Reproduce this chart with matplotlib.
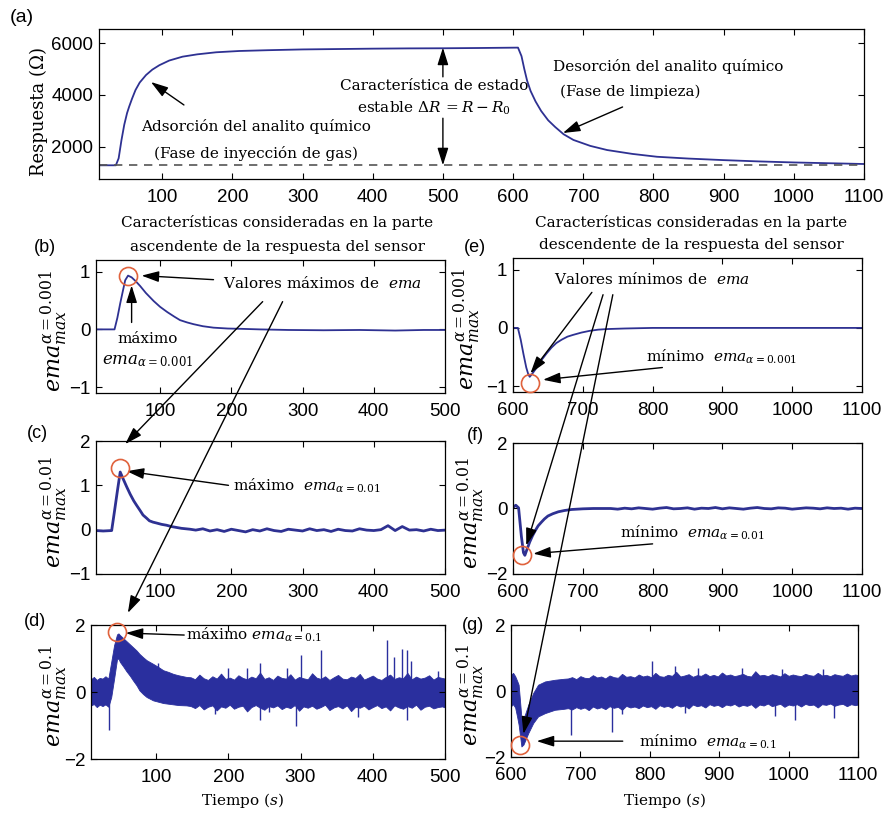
import numpy as np
import matplotlib
matplotlib.use('Agg')
import matplotlib.pyplot as plt
from matplotlib.patches import ConnectionPatch

plt.rcParams['font.family'] = 'Liberation Sans'
plt.rcParams['mathtext.fontset'] = 'dejavuserif'

# ---- data ----
# (a) sensor response
t_a = [10, 34, 38, 42, 46, 50, 53, 57, 62, 68, 77, 86, 96, 110, 129, 150, 177, 210, 250, 300,
       350, 400, 450, 500, 550, 607, 612, 616, 620, 625, 632, 640, 650, 660, 672, 686, 710, 734, 770, 805,
       850, 900, 950, 1000, 1050, 1100]
r_a = [1280, 1280, 1550, 2250, 2850, 3300, 3550, 3850, 4190, 4480, 4770, 4980, 5150, 5330, 5480, 5570, 5650, 5700, 5730, 5760,
       5775, 5790, 5800, 5805, 5815, 5830, 5500, 5000, 4550, 4150, 3750, 3380, 3020, 2760, 2480, 2260, 2030, 1870, 1720, 1610,
       1540, 1480, 1430, 1390, 1360, 1330]
r0 = 1280

# (b) ema alpha=0.001, ascending
t_b = [10, 36, 40, 44, 48, 51, 55, 60, 66, 72, 80, 91, 100, 110, 120, 128, 138, 147, 160, 175,
       195, 213, 240, 280, 330, 380, 430, 470, 500]
v_b = [0, 0, 0.2, 0.45, 0.68, 0.85, 0.93, 0.90, 0.83, 0.75, 0.63, 0.49, 0.39, 0.30, 0.22, 0.16, 0.12, 0.09, 0.055, 0.03,
       0.015, 0.01, 0.0, -0.01, -0.015, -0.01, -0.02, -0.01, -0.01]

# (c) ema alpha=0.01, ascending
t_c = [10, 20, 32, 36, 40, 44, 48, 53, 58, 63, 67, 72, 76, 81, 85, 90, 95, 102, 109, 116, 123, 130, 142]
v_c = [-0.02, -0.03, -0.02, 0.42, 0.87, 1.30, 1.15, 0.97, 0.80, 0.65, 0.55, 0.43, 0.33, 0.26, 0.20, 0.17, 0.15,
       0.12, 0.10, 0.07, 0.05, 0.03, 0.01]
t_c_tail = list(range(150, 501, 10))
v_c_tail = [-0.01, 0.02, -0.03, 0.00, -0.04, 0.01, -0.02, -0.05, 0.00, -0.03,
            0.02, -0.02, -0.04, 0.01, -0.01, -0.03, 0.02, -0.02, 0.00, -0.04,
            0.01, -0.02, -0.03, 0.02, -0.01, -0.02, 0.00, 0.09, -0.02, 0.07,
            -0.01, 0.00, -0.03, 0.01, -0.02, -0.01]

# (d) ema alpha=0.1, ascending: noise band envelope + isolated spikes
t_d = [10, 14, 18, 22, 26, 30, 34, 38, 42, 46, 48, 50, 55, 59, 64, 68, 73, 77, 82, 87,
       96, 103, 110, 117, 124, 131, 142] + list(range(148, 497, 6)) + [500]
up_d = [0.38, 0.45, 0.36, 0.42, 0.40, 0.47, 0.40, 0.90, 1.40, 1.72, 1.75, 1.70, 1.60, 1.52, 1.42, 1.34, 1.24, 1.14, 1.04, 0.95,
        0.84, 0.75, 0.65, 0.60, 0.54, 0.50, 0.45,
        0.44, 0.38, 0.52, 0.41, 0.36, 0.47, 0.40, 0.55, 0.39, 0.43,
        0.37, 0.50, 0.42, 0.38, 0.46, 0.41, 0.58, 0.39, 0.44, 0.36,
        0.49, 0.42, 0.40, 0.53, 0.37, 0.45, 0.41, 0.38, 0.56, 0.43,
        0.39, 0.47, 0.36, 0.44, 0.51, 0.40, 0.38, 0.46, 0.42, 0.54,
        0.37, 0.43, 0.49, 0.40, 0.36, 0.45, 0.52, 0.39, 0.44, 0.41,
        0.57, 0.38, 0.46, 0.40, 0.43, 0.50, 0.37, 0.45, 0.42, 0.40]
lo_d = [-0.40, -0.36, -0.45, -0.38, -0.42, -0.37, -0.44, -0.15, 0.40, 0.98, 1.00, 0.90, 0.75, 0.62, 0.48, 0.35, 0.20, 0.05, -0.06, -0.15,
        -0.25, -0.29, -0.33, -0.35, -0.37, -0.39, -0.40,
        -0.42, -0.48, -0.39, -0.52, -0.44, -0.40, -0.55, -0.43, -0.47, -0.38,
        -0.50, -0.44, -0.41, -0.58, -0.45, -0.39, -0.47, -0.53, -0.42, -0.46,
        -0.40, -0.51, -0.44, -0.48, -0.39, -0.56, -0.43, -0.47, -0.41, -0.50,
        -0.45, -0.38, -0.54, -0.46, -0.42, -0.49, -0.40, -0.57, -0.44, -0.47,
        -0.41, -0.52, -0.45, -0.39, -0.48, -0.43, -0.55, -0.40, -0.46, -0.50,
        -0.42, -0.47, -0.38, -0.53, -0.44, -0.41, -0.49, -0.45, -0.43, -0.46]
spk_d_t = [35, 103, 182, 200, 226, 244, 244, 256, 281, 294, 300, 328, 380, 420, 429, 441, 447, 448, 453, 490]
spk_d_v = [-1.14, 0.87, -0.65, 0.72, 0.72, 0.87, -0.85, -0.60, 0.72, -1.00, 1.09, 1.24, -0.75, 1.54, 1.04, 1.29, 1.24, -0.85, 0.94, 0.64]

# (e) ema alpha=0.001, descending
t_e = [600, 607, 611, 615, 619, 622, 624, 628, 634, 641, 648, 655, 662, 670, 678, 686, 698, 710, 722, 734,
       760, 800, 900, 1000, 1100]
v_e = [0, 0, -0.2, -0.45, -0.68, -0.8, -0.84, -0.78, -0.68, -0.55, -0.44, -0.34, -0.26, -0.2, -0.15, -0.12, -0.08, -0.05, -0.03, -0.02,
       -0.01, 0, 0, 0, 0]

# (f) ema alpha=0.01, descending
t_f = [600, 604, 606, 608, 612, 615, 617, 620, 624, 628, 632, 636, 641, 645, 650, 657, 665, 674, 684, 700, 715, 730]
v_f = [0.03, 0.10, 0.06, 0.02, -0.85, -1.35, -1.43, -1.25, -1.02, -0.83, -0.67, -0.53, -0.41, -0.32, -0.23, -0.16,
       -0.10, -0.06, -0.03, -0.01, 0.0, 0.0]
t_f_tail = list(range(740, 1101, 10))
v_f_tail = [0.00, -0.02, 0.01, -0.01, 0.02, 0.00, -0.02, 0.01, 0.03, -0.01,
            0.00, 0.02, -0.02, 0.01, 0.00, 0.03, -0.01, 0.02, 0.00, -0.02,
            0.01, 0.03, 0.00, -0.01, 0.02, 0.01, -0.02, 0.00, 0.02, 0.01,
            -0.01, 0.02, 0.00, 0.01, -0.02, 0.01, 0.00]

# (g) ema alpha=0.1, descending
t_g = [600, 603, 606, 609, 611, 613, 615, 618, 620, 625, 632, 639, 649, 663, 676] + list(range(682, 1099, 6)) + [1100]
up_g = [0.49, 0.55, 0.45, 0.30, 0.19, -0.30, -0.82, -0.80, -0.72, -0.41, -0.06, 0.19, 0.29, 0.34, 0.37,
        0.38, 0.42, 0.36, 0.45, 0.40, 0.39, 0.48, 0.41, 0.44, 0.38,
        0.47, 0.42, 0.40, 0.52, 0.43, 0.45, 0.41, 0.50, 0.44, 0.47,
        0.42, 0.55, 0.45, 0.43, 0.49, 0.46, 0.58, 0.44, 0.47, 0.51,
        0.43, 0.48, 0.46, 0.53, 0.45, 0.49, 0.44, 0.56, 0.47, 0.50,
        0.45, 0.48, 0.52, 0.46, 0.44, 0.60, 0.47, 0.49, 0.45, 0.51,
        0.48, 0.44, 0.54, 0.46, 0.50, 0.47, 0.45, 0.52, 0.48, 0.46,
        0.55, 0.47, 0.49, 0.45, 0.51, 0.48, 0.46, 0.53, 0.47, 0.50,
        0.48]
lo_g = [-0.46, -0.40, -0.50, -0.80, -1.02, -1.35, -1.68, -1.62, -1.52, -1.27, -0.97, -0.77, -0.67, -0.57, -0.54,
        -0.52, -0.56, -0.49, -0.54, -0.50, -0.58, -0.47, -0.53, -0.49, -0.55,
        -0.46, -0.51, -0.48, -0.57, -0.45, -0.50, -0.47, -0.52, -0.44, -0.49,
        -0.46, -0.54, -0.43, -0.48, -0.45, -0.51, -0.42, -0.47, -0.44, -0.53,
        -0.41, -0.46, -0.43, -0.50, -0.40, -0.45, -0.42, -0.49, -0.41, -0.44,
        -0.39, -0.47, -0.42, -0.45, -0.40, -0.51, -0.41, -0.44, -0.38, -0.46,
        -0.42, -0.39, -0.48, -0.41, -0.44, -0.40, -0.47, -0.39, -0.43, -0.41,
        -0.50, -0.40, -0.42, -0.38, -0.45, -0.41, -0.39, -0.46, -0.40, -0.43,
        -0.41]
spk_g_t = [687, 746, 760, 803, 836, 850, 870, 933, 980, 990, 1009, 1050, 1066]
spk_g_v = [-1.33, -1.23, -0.70, 0.90, 0.75, -0.67, 0.70, 0.70, -0.75, 0.68, -0.87, 0.66, -0.82]

# ---- layout (pixel boxes: left, top, right, bottom) ----
W, H = 890, 813
fig = plt.figure(figsize=(W / 100, H / 100), dpi=100)


def box(l, t, r, b):
    return [l / W, 1 - b / H, (r - l) / W, (b - t) / H]


def px(x, y):
    return x / W, 1 - y / H


ax_a = fig.add_axes(box(99, 29, 864, 179))
ax_b = fig.add_axes(box(96, 260, 445, 393))
ax_c = fig.add_axes(box(96, 441, 445, 574))
ax_d = fig.add_axes(box(91, 625, 445, 759))
ax_e = fig.add_axes(box(513, 258, 862, 392))
ax_f = fig.add_axes(box(513, 443, 862, 574))
ax_g = fig.add_axes(box(511, 625, 858, 757))

line_col = '#2e3192'
band_col = '#2a2f9e'
ring_col = '#e0623c'
serif = 'DejaVu Serif'


def style(ax, xlim, xticks, ylim, yticks):
    ax.set_xlim(xlim)
    ax.set_ylim(ylim)
    ax.set_xticks(xticks)
    ax.set_yticks(yticks)
    ax.tick_params(direction='in', top=True, right=True, length=4, width=0.8, labelsize=13.5)
    ax.tick_params(axis='x', pad=7)
    ax.tick_params(axis='y', pad=4)
    for s in ax.spines.values():
        s.set_linewidth(0.9)


def arrow(ax, tail, head):
    ax.annotate('', xy=head, xytext=tail, annotation_clip=False,
                arrowprops=dict(arrowstyle='-|>,head_length=0.7,head_width=0.22', mutation_scale=15,
                                lw=1, color='k', shrinkA=0, shrinkB=0))


def link(ax1, tail, ax2, head):
    con = ConnectionPatch(xyA=tail, coordsA=ax1.transData, xyB=head, coordsB=ax2.transData,
                          arrowstyle='-|>,head_length=0.7,head_width=0.22', mutation_scale=15,
                          lw=1, color='k', shrinkA=0, shrinkB=0)
    fig.add_artist(con)


def ring(ax, x, y):
    ax.plot([x], [y], 'o', ms=13, mfc='none', mec=ring_col, mew=1.2, clip_on=False, zorder=5)


# (a)
ax_a.plot(t_a, r_a, color=line_col, lw=1.3)
ax_a.axhline(r0, color='#555555', lw=1.2, ls=(0, (5, 4)))
style(ax_a, (10, 1100), range(100, 1101, 100), (750, 6550), [2000, 4000, 6000])
ax_a.set_ylabel('Respuesta (Ω)', family=serif, fontsize=13)
ax_a.yaxis.set_label_coords(-0.067, 0.45)
ax_a.text(234, 2761, 'Adsorción del analito químico', family=serif, fontsize=11, ha='center', va='center')
ax_a.text(234, 1755, '(Fase de inyección de gas)', family=serif, fontsize=11, ha='center', va='center')
ax_a.text(487, 4348, 'Característica de estado', family=serif, fontsize=11, ha='center', va='center')
ax_a.text(487, 3497, r'estable $\Delta R\,=R-R_0$', family=serif, fontsize=11, ha='center', va='center')
ax_a.text(821, 5083, 'Desorción del analito químico', family=serif, fontsize=11, ha='center', va='center')
ax_a.text(767, 4115, '(Fase de limpieza)', family=serif, fontsize=11, ha='center', va='center')
arrow(ax_a, (131, 3613), (84, 4500))
arrow(ax_a, (500, 4700), (500, max(r_a[:26])))
arrow(ax_a, (500, 3100), (500, r0))
arrow(ax_a, (756, 3535), (671, 2529))

# (b)
ax_b.plot(t_b, v_b, color=line_col, lw=1.3)
style(ax_b, (10, 500), range(100, 501, 100), (-1.1, 1.2), [-1, 0, 1])
i = int(np.argmax(v_b))
ring(ax_b, t_b[i], v_b[i])
ax_b.text(328, 0.8, r'Valores máximos de  $ema$', family=serif, fontsize=11, ha='center', va='center')
ax_b.text(83, -0.17, 'máximo', family=serif, fontsize=11, ha='center', va='center')
ax_b.text(83, -0.55, r'$ema_{\alpha=0.001}$', fontsize=12, ha='center', va='center')
arrow(ax_b, (60, 0.12), (60, 0.76))
arrow(ax_b, (175, 0.86), (74, 0.93))

# (c)
ax_c.plot(t_c + t_c_tail, v_c + v_c_tail, color=line_col, lw=2.0)
style(ax_c, (10, 500), range(100, 501, 100), (-1, 2), [-1, 0, 1, 2])
i = int(np.argmax(v_c))
ring(ax_c, t_c[i], v_c[i] + 0.08)
ax_c.text(203, 1.0, r'máximo  $ema_{\alpha=0.01}$', family=serif, fontsize=11, ha='left', va='center')
arrow(ax_c, (196, 1.0), (53, 1.32))

# (d)
ax_d.fill_between(t_d, lo_d, up_d, color=band_col, lw=0.6)
ax_d.vlines(spk_d_t, 0, spk_d_v, color=band_col, lw=1)
style(ax_d, (10, 500), range(100, 501, 100), (-2, 2), [-2, 0, 2])
i = int(np.argmax(up_d))
ring(ax_d, t_d[i] - 2, up_d[i] + 0.05)
ax_d.text(141, 1.70, r'máximo $ema_{\alpha=0.1}$', family=serif, fontsize=11, ha='left', va='center')
arrow(ax_d, (139, 1.70), (58, 1.76))

# (e)
ax_e.plot(t_e, v_e, color=line_col, lw=1.3)
style(ax_e, (600, 1100), range(600, 1101, 100), (-1.1, 1.2), [-1, 0, 1])
i = int(np.argmin(v_e))
ring(ax_e, t_e[i], v_e[i] - 0.1)
ax_e.text(799, 0.84, r'Valores mínimos de  $ema$', family=serif, fontsize=11, ha='center', va='center')
ax_e.text(899, -0.5, r'mínimo  $ema_{\alpha=0.001}$', family=serif, fontsize=11, ha='center', va='center')
arrow(ax_e, (814, -0.68), (643, -0.89))

# (f)
ax_f.plot(t_f + t_f_tail, v_f + v_f_tail, color=line_col, lw=2.0)
style(ax_f, (600, 1100), range(600, 1101, 100), (-2, 2), [-2, 0, 2])
i = int(np.argmin(v_f))
ring(ax_f, t_f[i] - 4, v_f[i])
ax_f.text(857, -0.74, r'mínimo  $ema_{\alpha=0.01}$', family=serif, fontsize=11, ha='center', va='center')
arrow(ax_f, (800, -1.08), (629, -1.38))

# (g)
ax_g.fill_between(t_g, lo_g, up_g, color=band_col, lw=0.6)
ax_g.vlines(spk_g_t, 0, spk_g_v, color=band_col, lw=1)
style(ax_g, (600, 1100), range(600, 1101, 100), (-2, 2), [-2, 0, 2])
i = int(np.argmin(lo_g))
ring(ax_g, t_g[i] - 2, lo_g[i] + 0.05)
ax_g.text(884, -1.55, r'mínimo  $ema_{\alpha=0.1}$', family=serif, fontsize=11, ha='center', va='center')
arrow(ax_g, (761, -1.52), (637, -1.52))

# y labels of the ema panels
ylabs = [r'$ema_{max}^{\alpha=0.001}$', r'$ema_{max}^{\alpha=0.01}$', r'$ema_{max}^{\alpha=0.1}$'] * 2
label_right = [70, 70, 70, 483, 487, 487]
for ax, lab, xr in zip([ax_b, ax_c, ax_d, ax_e, ax_f, ax_g], ylabs, label_right):
    ax.set_ylabel(lab, fontsize=16)
    x0 = ax.get_position().x0 * W
    w = ax.get_position().width * W
    ax.yaxis.set_label_coords((xr - x0) / w, 0.47)

# cross-panel arrows
link(ax_b, (244, 0.48), ax_c, (51, 1.93))
link(ax_b, (272, 0.48), ax_d, (61, 2.36))
link(ax_e, (713, 0.61), ax_e, (625, -0.78))
link(ax_e, (729, 0.57), ax_f, (619, -1.13))
link(ax_e, (743, 0.57), ax_g, (618, -1.3))

# panel letters and headings
for lab, x, y, fs in [('(a)', 22, 17, 14), ('(b)', 45, 248, 13), ('(c)', 37, 433, 13), ('(d)', 35, 622, 13),
                      ('(e)', 475, 248, 13), ('(f)', 475, 435, 13), ('(g)', 473, 625, 13)]:
    fig.text(*px(x, y), lab, fontsize=fs, ha='center', va='center')

fig.text(*px(277, 222), 'Características consideradas en la parte', family=serif, fontsize=11, ha='center', va='center')
fig.text(*px(277, 247), 'ascendente de la respuesta del sensor', family=serif, fontsize=11, ha='center', va='center')
fig.text(*px(691, 222), 'Características consideradas en la parte', family=serif, fontsize=11, ha='center', va='center')
fig.text(*px(691, 245), 'descendente de la respuesta del sensor', family=serif, fontsize=11, ha='center', va='center')
fig.text(*px(242, 800), r'Tiempo ($s$)', family=serif, fontsize=11, ha='center', va='center')
fig.text(*px(664, 800), r'Tiempo ($s$)', family=serif, fontsize=11, ha='center', va='center')

fig.savefig('out.png', dpi=100)
